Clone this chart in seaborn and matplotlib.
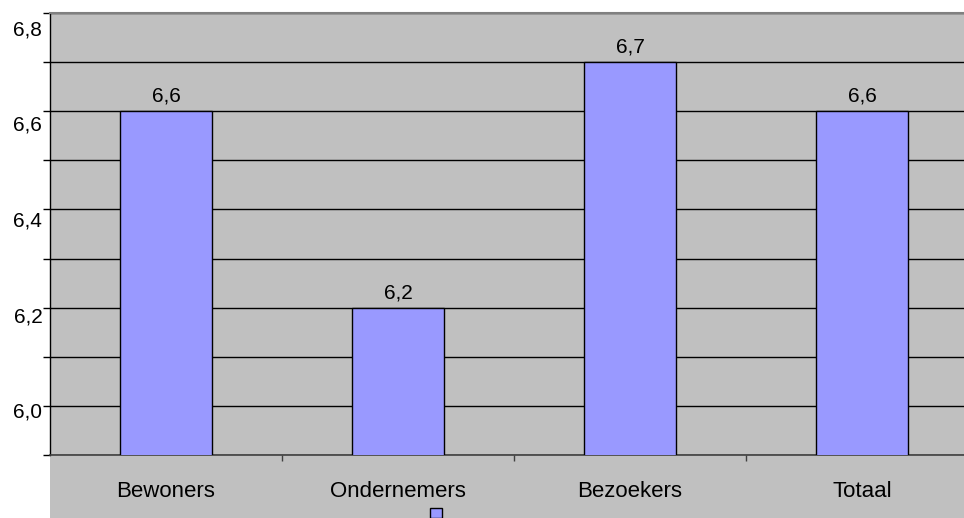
import numpy as np
import pandas as pd
import matplotlib
matplotlib.use('Agg')
import matplotlib.pyplot as plt
from matplotlib.patches import Patch, Rectangle
from matplotlib.transforms import ScaledTranslation
import seaborn as sns

categories = ['Bewoners', 'Ondernemers', 'Bezoekers', 'Totaal']
scores = [6.6, 6.2, 6.7, 6.6]
ytick_major = [6.0, 6.2, 6.4, 6.6, 6.8]
ytick_minor = [5.9, 6.1, 6.3, 6.5, 6.7]

sns.set_style('white')
plt.rcParams['font.family'] = ['Liberation Sans', 'DejaVu Sans']
plt.rcParams['text.color'] = 'black'
plt.rcParams['xtick.color'] = 'black'
plt.rcParams['ytick.color'] = 'black'

gray = '#C0C0C0'
barcolor = '#9999FF'

fig = plt.figure(figsize=(9.64, 5.18), dpi=100)
fig.patch.set_facecolor('white')

W, H = 964, 518
left, right, top, bottom = 50, 964, 13, 455
ax = fig.add_axes([left / W, (H - bottom) / H, (right - left) / W, (bottom - top) / H])

# gray band under the plot area (category label area)
fig.add_artist(Rectangle((left / W, 0), 1 - left / W, (H - bottom) / H,
                         transform=fig.transFigure, facecolor=gray, edgecolor='none', zorder=0))

df = pd.DataFrame({'group': categories, 'score': scores})
sns.barplot(data=df, x='group', y='score', color=barcolor, width=0.4,
            edgecolor='black', linewidth=1, saturation=1, ax=ax, zorder=3)

ax.set_facecolor(gray)
ax.set_ylim(5.9, 6.8)
ax.set_xlim(-0.5, 3.5 - 14 / 232)

ax.set_yticks(ytick_major)
ax.set_yticklabels([f'{v:.1f}'.replace('.', ',') for v in ytick_major])
ax.set_yticks(ytick_minor, minor=True)
ax.yaxis.grid(True, which='both', color='black', linewidth=1, zorder=1)
ax.set_axisbelow(True)
ax.tick_params(axis='y', which='both', left=True, length=5, width=1, color='black',
               labelsize=15, pad=0.5, labelcolor='black')

# excel draws the value labels a bit below their ticks, more so near the top
for i, lab in enumerate(ax.get_yticklabels()):
    off = 4.5 + 2.5 * i
    lab.set_transform(lab.get_transform() + ScaledTranslation(0, -off / 100, fig.dpi_scale_trans))

ax.set_xticks(range(len(categories)))
ax.set_xticklabels(categories)
ax.set_xticks([0.5, 1.5, 2.5], minor=True)
ax.tick_params(axis='x', which='major', bottom=False, length=0, labelsize=16, pad=19,
               labelcolor='black')
ax.tick_params(axis='x', which='minor', bottom=True, length=4, width=1, color='#404040')

ax.set_xlabel('')
ax.set_ylabel('')

ax.spines['right'].set_visible(False)
ax.spines['top'].set_color('#808080')
ax.spines['top'].set_linewidth(1.5)
ax.spines['left'].set_color('black')
ax.spines['left'].set_linewidth(1)
ax.spines['bottom'].set_color('#404040')
ax.spines['bottom'].set_linewidth(1.2)

ax.bar_label(ax.containers[0], labels=[f'{v:.1f}'.replace('.', ',') for v in scores],
             padding=4, fontsize=15, color='black')

fig.legend(handles=[Patch(facecolor=barcolor, edgecolor='black', linewidth=1)], labels=[''],
           loc='center', bbox_to_anchor=(436 / W, 4 / H), frameon=False,
           handlelength=0.8, handleheight=0.8, handletextpad=0, borderpad=0)

fig.savefig('out.png', dpi=100)
